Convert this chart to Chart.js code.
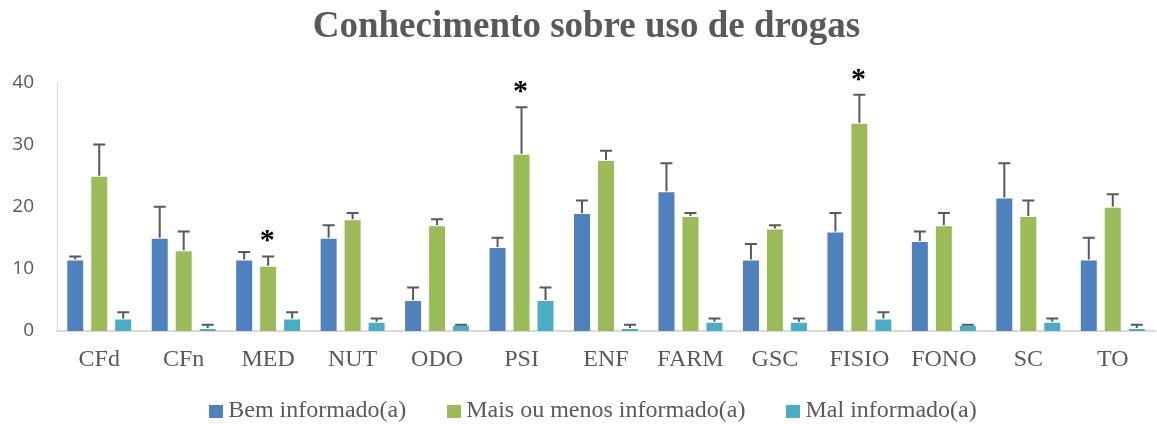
<!DOCTYPE html>
<html><head><meta charset="utf-8">
<script src="https://cdn.jsdelivr.net/npm/chart.js@4.4.1/dist/chart.umd.min.js"></script>
<style>html,body{margin:0;padding:0;background:#fff;overflow:hidden}canvas{display:block}</style>
</head><body>
<canvas id="c" width="1157" height="424"></canvas>
<script>
const categories = ['CFd','CFn','MED','NUT','ODO','PSI','ENF','FARM','GSC','FISIO','FONO','SC','TO'];
const seriesNames = ['Bem informado(a)','Mais ou menos informado(a)','Mal informado(a)'];
const bemValues = [11.5, 15, 11.5, 15, 5, 13.5, 19, 22.5, 11.5, 16, 14.5, 21.5, 11.5];
const bemErr = [0.5, 5, 1.2, 2, 2, 1.5, 2, 4.5, 2.5, 3, 1.5, 5.5, 3.5];
const maisMenosValues = [25, 13, 10.5, 18, 17, 28.5, 27.5, 18.5, 16.5, 33.5, 17, 18.5, 20];
const maisMenosErr = [5, 3, 1.5, 1, 1, 7.5, 1.5, 0.5, 0.5, 4.5, 2, 2.5, 2];
const malValues = [2, 0.5, 2, 1.5, 1, 5, 0.5, 1.5, 1.5, 2, 1, 1.5, 0.5];
const malErr = [1, 0.5, 1, 0.5, 0, 2, 0.5, 0.5, 0.5, 1, 0, 0.5, 0.5];
const maisMenosSignificant = [false, false, true, false, false, true, false, false, false, true, false, false, false];
const yTicks = [0, 10, 20, 30, 40];
const colors = ['#4F81BD', '#9BBB59', '#4BACC6'];
const textColor = '#595959';

function swatch(color) {
  const c = document.createElement('canvas');
  c.width = 14; c.height = 13;
  const g = c.getContext('2d');
  g.fillStyle = color; g.fillRect(0, 0, 14, 13);
  return c;
}
const swatches = colors.map(swatch);

const layoutTweaks = {
  id: 'layoutTweaks',
  afterLayout(chart) {
    // let tick labels draw outside their (narrow) axis boxes
    chart.scales.y.left = 0;
    chart.scales.x.bottom = chart.height;
    if (chart.legend) { chart.legend.left += 10; chart.legend.right += 10; }
  }
};

const errorBarPlugin = {
  id: 'errorBars',
  afterDatasetsDraw(chart) {
    const ctx = chart.ctx;
    const y = chart.scales.y;
    chart.data.datasets.forEach((ds, i) => {
      const meta = chart.getDatasetMeta(i);
      if (meta.hidden) return;
      meta.data.forEach((bar, j) => {
        const top = y.getPixelForValue(ds.data[j] + ds.errorPlus[j]);
        ctx.save();
        ctx.strokeStyle = '#595959';
        ctx.lineWidth = 2;
        ctx.beginPath();
        ctx.moveTo(bar.x, bar.y);
        ctx.lineTo(bar.x, top);
        ctx.moveTo(bar.x - 6, top);
        ctx.lineTo(bar.x + 6, top);
        ctx.stroke();
        if (ds.significant && ds.significant[j]) {
          ctx.font = 'bold 30px "Liberation Serif"';
          ctx.fillStyle = '#000';
          ctx.textAlign = 'center';
          ctx.textBaseline = 'alphabetic';
          const m = ctx.measureText('*');
          const cy = top - 20;
          ctx.fillText('*', bar.x - 1, cy + (m.actualBoundingBoxAscent - m.actualBoundingBoxDescent) / 2);
        }
        ctx.restore();
      });
    });
  }
};

const seriesValues = [bemValues, maisMenosValues, malValues];
const seriesErr = [bemErr, maisMenosErr, malErr];

new Chart(document.getElementById('c'), {
  type: 'bar',
  data: {
    labels: categories,
    datasets: seriesNames.map((name, i) => ({
      label: name,
      data: seriesValues[i],
      errorPlus: seriesErr[i],
      significant: i === 1 ? maisMenosSignificant : null,
      backgroundColor: colors[i],
      borderColor: 'rgba(255,255,255,0.45)',
      borderWidth: 1,
      barPercentage: 0.75,
      categoryPercentage: 0.852
    }))
  },
  options: {
    responsive: false,
    animation: false,
    devicePixelRatio: 1,
    layout: { padding: { left: 18, right: 2, top: 0, bottom: 0 } },
    plugins: {
      tooltip: { enabled: false },
      title: {
        display: true,
        text: 'Conhecimento sobre uso de drogas',
        color: textColor,
        font: { family: '"Liberation Serif"', size: 37, weight: 'bold' },
        padding: { top: 5, bottom: 33 }
      },
      legend: {
        position: 'bottom',
        maxHeight: 73,
        labels: {
          usePointStyle: true,
          boxWidth: 0.01,
          padding: 48,
          color: textColor,
          font: { family: '"Liberation Serif"', size: 24 },
          generateLabels(chart) {
            const items = Chart.defaults.plugins.legend.labels.generateLabels(chart);
            items.forEach((it, i) => { it.pointStyle = swatches[i]; });
            return items;
          }
        }
      }
    },
    scales: {
      x: {
        grid: { display: false, drawTicks: false },
        border: { display: true, color: '#d9d9d9', width: 2 },
        ticks: { color: textColor, padding: 14, font: { family: '"Liberation Serif"', size: 24 } },
        afterFit(scale) { scale.height = 20; }
      },
      y: {
        min: 0, max: 40,
        afterBuildTicks(scale) { scale.ticks = yTicks.map(v => ({ value: v })); },
        grid: { display: false, drawTicks: false },
        border: { display: true, color: '#d9d9d9', width: 1 },
        ticks: { color: textColor, padding: 23, font: { family: '"Open Sans"', size: 19 } },
        afterFit(scale) { scale.width = 39; }
      }
    }
  },
  plugins: [layoutTweaks, errorBarPlugin]
});
</script>
</body></html>
